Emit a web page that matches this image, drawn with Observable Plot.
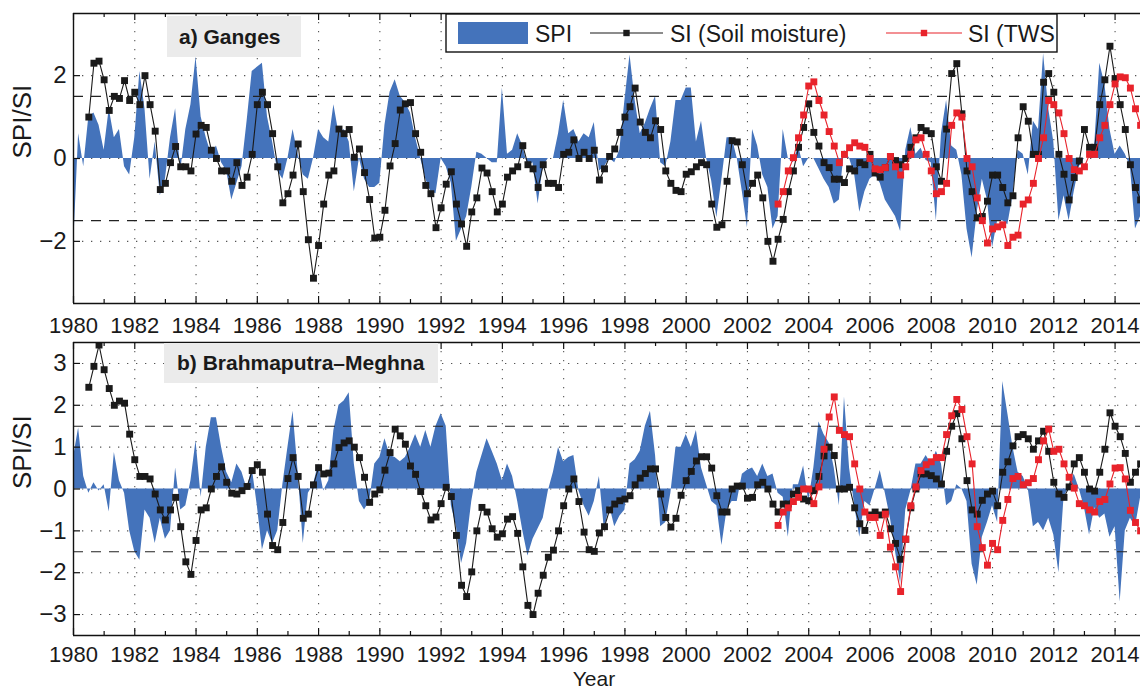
<!DOCTYPE html>
<html><head><meta charset="utf-8">
<script src="https://cdn.jsdelivr.net/npm/d3@7"></script>
<script src="https://cdn.jsdelivr.net/npm/@observablehq/plot@0.6"></script>
<style>
body{margin:0;background:#fff;}
#chart{position:relative;width:1140px;height:690px;overflow:hidden;background:#fff;}
#chart svg{position:absolute;left:0;}
</style></head><body><div id="chart"></div>
<script>
// ---- time layout of the series (bimonthly readings) ----
const START = 1980, STEP = 1 / 6;
const SI_START = 1980.5, TWS_START = 2003.0;

// ---- axis ticks / labels ----
const yearTicks = [1980,1982,1984,1986,1988,1990,1992,1994,1996,1998,2000,2002,2004,2006,2008,2010,2012,2014];
const minorYears = [1981,1983,1985,1987,1989,1991,1993,1995,1997,1999,2001,2003,2005,2007,2009,2011,2013];
const yTicksA = [-2, 0, 2];
const yTicksB = [-3, -2, -1, 0, 1, 2, 3];
const thresholds = [-1.5, 1.5];
const panelTitles = ["a) Ganges", "b) Brahmaputra–Meghna"];
const legendLabels = ["SPI", "SI (Soil moisture)", "SI (TWS"];
const yLabel = "SPI/SI";
const xLabel = "Year";

// ---- a) Ganges ----
const gangesSPI = [
-2.2,0.6,-0.2,1.0,1.1,0.8,0.2,1.2,0.5,0.7,-0.2,-0.4,0.5,2.1,1.2,-0.5,0.4,-0.9,-0.5,0.5,1.2,-0.3,0.7,1.3,2.45,1.0,0.5,0.1,0.3,-0.1,-0.3,-1.0,-0.6,-0.2,0.9,2.1,2.2,2.3,1.0,0.4,-0.3,-0.5,0.0,0.7,0.1,-0.4,-0.5,0.0,0.7,0.5,0.4,1.3,0.6,0.7,0.4,
-0.8,0.0,-0.5,-0.7,-0.7,-0.6,0.8,1.6,1.9,1.5,1.35,1.1,0.5,0.0,-0.5,-0.8,-0.85,0.0,-0.2,-0.6,-2.0,-1.7,-1.4,-0.7,0.15,0.1,0.0,-0.1,-0.1,1.7,0.1,0.2,0.6,0.3,-0.2,-0.1,-1.1,-0.2,0.0,0.0,0.6,1.4,0.6,0.7,0.4,0.6,0.5,0.87,-0.3,-0.2,0.0,-0.1,0.2,
1.4,2.5,1.4,0.6,0.85,1.2,1.5,-0.1,-0.2,0.4,1.4,1.4,1.7,1.7,0.4,0.9,0.0,-0.55,-1.43,-0.5,0.5,0.5,0.0,-0.8,-1.67,0.7,0.3,-0.4,-0.7,-1.7,-1.4,0.7,0.0,-0.1,0.3,-0.2,0.0,0.0,-0.25,-0.5,-0.7,-1.1,-1.0,0.2,0.0,-0.4,-1.3,-0.8,-0.5,-0.4,-0.6,-1.0,-1.2,-1.4,-1.76,
0.2,0.75,0.1,0.25,-0.05,-0.1,-1.5,0.6,1.4,0.3,0.2,-0.4,-1.7,-2.4,-1.3,-0.5,-1.0,-2.16,-1.5,-1.5,-1.6,-0.9,0.2,0.1,-0.4,0.9,0.7,2.53,1.2,0.4,-1.5,-0.9,-1.5,-0.8,-0.2,0.0,0.0,0.3,2.3,1.8,0.7,0.1,0.3,0.1,-0.2,-1.7,-1.4
];
const gangesSI = [
1.0,2.3,2.35,1.9,1.16,1.5,1.45,1.88,1.4,1.6,1.3,2.0,1.3,0.66,-0.75,-0.6,-0.1,0.29,-0.2,-0.2,-0.3,0.59,0.8,0.75,0.2,0.0,-0.3,-0.3,-0.55,-0.1,-0.65,-0.45,0.1,1.3,1.6,1.3,0.6,-0.2,-1.07,-0.85,-0.4,0.35,-0.8,-1.96,-2.89,-2.1,-1.1,-0.4,-0.3,0.71,0.6,0.7,
0.03,0.23,-0.34,-0.99,-1.92,-1.9,-1.25,-0.18,0.36,1.17,1.32,1.35,0.6,0.15,-0.65,-0.85,-1.67,-1.19,-0.62,-0.32,-1.1,-1.58,-2.12,-1.29,-0.95,-0.23,-0.35,-0.8,-1.29,-1.1,-0.45,-0.3,-0.2,0.31,-0.15,-0.25,-0.7,-0.15,-0.6,-0.6,-0.7,0.1,0.15,0.45,0.0,0.15,0.0,0.2,-0.52,-0.25,0.05,0.23,0.63,
1.0,1.25,1.7,0.88,0.63,0.5,0.91,0.7,-0.3,-0.6,-0.77,-0.8,-0.38,-0.32,-0.2,-0.1,-0.15,-1.1,-1.66,-1.6,-0.55,0.43,0.4,-0.15,-0.85,-0.6,-0.4,-0.95,-2.0,-2.48,-1.95,-1.47,-0.8,-0.3,0.27,0.75,1.32,0.63,0.3,-0.1,-0.22,-0.5,-0.5,-0.58,-0.25,-0.3,-0.1,-0.15,0.1,-0.35,-0.45,-0.22,0.05,-0.05,-0.15,
0.0,0.27,0.5,0.75,0.67,0.6,-0.2,-0.55,0.71,2.05,2.29,1.08,-0.3,-0.8,-1.43,-1.4,-1.03,-0.4,-0.4,-0.7,-1.07,-0.9,0.5,1.25,0.9,0.1,0.1,1.84,2.05,1.6,0.1,-0.38,-1.0,-0.46,-0.06,0.7,0.27,0.27,1.3,1.9,2.71,1.93,1.3,0.7,-0.15,-0.7,-1.0
];
const gangesTWS = [
-1.1,-0.8,-0.3,0.02,0.5,1.05,1.75,1.85,1.4,1.05,0.65,0.3,-0.1,0.1,0.26,0.38,0.3,0.27,0.0,-0.25,-0.27,-0.22,0.05,-0.2,-0.4,
-0.2,0.1,0.45,0.5,0.1,-0.3,-0.85,-0.8,-0.6,0.8,1.1,1.0,0.0,-0.2,-0.95,-1.5,-2.04,-1.7,-1.65,-1.6,-2.1,-1.9,-1.85,-1.1,-1.0,-0.6,0.0,0.5,1.4,1.3,1.1,0.6,0.0,-0.27,-0.3,-0.2,0.1,0.1,0.5,0.8,1.3,1.8,1.97,1.95,1.7,1.2,0.8
];

// ---- b) Brahmaputra–Meghna ----
const brahmSPI = [
0.75,1.46,0.3,-0.1,0.15,-0.05,0.1,-0.55,0.87,0.2,-0.1,-1.0,-1.5,-1.7,-0.5,-0.7,-1.3,-0.7,-1.2,-1.0,0.5,-0.5,-0.4,0.2,1.15,-0.2,1.0,1.7,1.7,1.0,0.4,0.15,0.6,0.4,0.0,0.5,-0.4,-1.46,-1.0,-1.3,-1.0,0.1,1.0,1.86,0.4,-1.3,-0.1,0.1,0.6,-0.05,0.2,1.4,2.0,2.1,2.3,
0.6,-0.3,-0.5,-0.3,0.6,0.75,1.2,0.8,0.75,0.65,0.75,1.0,1.3,1.0,1.4,1.0,1.5,1.8,1.5,-0.4,-0.9,-1.78,-1.3,-0.3,0.4,0.8,1.2,0.9,0.6,0.2,0.6,0.3,-0.3,-1.0,-1.6,-1.2,-0.95,-0.7,-0.05,0.4,0.99,0.65,0.75,0.8,-0.05,-0.4,-0.65,-0.3,0.3,-1.0,-0.4,-0.9,-0.65,
-0.5,0.6,0.7,0.9,1.5,1.86,0.8,-0.9,-0.8,-0.1,1.0,1.0,1.3,1.0,1.4,0.5,0.1,-0.3,-0.4,-1.35,-0.5,-0.3,-0.3,0.35,0.45,0.5,0.3,0.6,0.3,0.36,-0.1,-0.2,-1.15,0.1,0.1,0.55,-0.3,0.5,1.6,1.3,1.1,0.5,-0.4,2.2,0.5,-0.4,-1.15,-0.3,-0.4,0.0,0.44,-0.1,-0.7,-1.5,-2.26,
-0.5,-0.05,0.6,0.6,0.8,0.6,0.9,0.6,-0.4,-0.3,0.1,0.0,-0.3,-1.8,-2.3,-1.15,-0.8,-0.4,-0.8,2.57,1.8,1.0,0.4,0.3,0.0,-0.9,-0.8,-1.0,-0.7,-1.1,-2.0,-0.2,0.05,0.35,0.0,-0.45,-1.1,-0.45,-0.7,-0.6,-1.15,-0.9,-2.7,-1.0,-0.7,-0.9,-0.2
];
const brahmSI = [
2.43,2.93,3.44,2.85,2.4,2.0,2.1,2.05,1.31,0.7,0.3,0.3,0.24,-0.12,-0.5,-0.74,-0.5,-0.2,-0.9,-1.74,-2.04,-1.23,-0.5,-0.45,0.0,0.3,0.53,0.16,-0.1,-0.12,-0.04,0.06,0.44,0.58,0.4,-0.6,-1.35,-1.45,-0.8,0.25,0.75,0.3,-0.7,-0.6,0.1,0.51,0.36,0.38,0.6,0.99,1.1,1.15,
1.0,0.75,0.28,-0.32,-0.12,-0.02,0.45,0.87,1.43,1.27,1.07,0.55,0.35,-0.06,-0.4,-0.74,-0.67,-0.35,0.04,-0.18,-1.11,-2.3,-2.57,-1.98,-1.0,-0.44,-0.55,-0.95,-1.15,-1.07,-0.72,-0.66,-1.06,-1.86,-2.78,-3.0,-2.49,-2.06,-1.63,-1.46,-1.0,-0.4,0.0,0.24,-0.3,-1.03,-1.45,-1.49,-1.05,-0.9,-0.5,-0.36,-0.28,
-0.24,-0.16,0.1,0.26,0.37,0.48,0.48,-0.12,-0.68,-0.91,-0.7,-0.15,0.2,0.42,0.67,0.77,0.77,0.5,-0.16,-0.55,-0.55,0.0,0.07,0.07,-0.22,-0.2,0.1,0.16,0.0,-0.36,-0.55,-0.36,-0.36,-0.12,-0.04,-0.24,-0.28,-0.04,0.3,0.79,1.0,0.8,0.0,0.0,0.04,-0.45,-0.83,-0.99,-0.62,-0.55,-0.62,-0.55,-0.95,-1.3,-1.68,
-1.2,-0.45,0.0,0.36,0.36,0.32,0.24,0.12,0.9,1.5,1.8,1.2,0.2,-0.5,-0.6,-0.27,-0.12,-0.05,-0.4,0.4,0.65,1.03,1.25,1.3,1.2,0.95,1.15,1.38,0.9,0.16,-0.12,-0.2,0.05,0.6,0.75,0.4,0.0,-0.05,0.4,0.95,1.82,1.5,1.25,0.85,0.16,0.4,0.6
];
const brahmTWS = [
-0.87,-0.55,-0.45,-0.3,-0.2,0.0,0.0,-0.35,0.05,0.95,1.72,2.2,1.4,1.3,1.25,0.6,0.0,-0.55,-0.68,-0.68,-1.11,-0.6,-1.39,-1.86,-2.45,
-1.2,-0.4,0.05,0.44,0.58,0.65,0.75,0.75,1.3,1.75,2.14,1.9,1.25,0.6,-0.9,-1.4,-1.82,-1.3,-1.45,-0.75,-0.25,0.25,0.3,0.1,0.15,0.25,0.7,1.15,1.43,0.9,0.95,0.6,0.28,0.02,-0.35,-0.4,-0.5,-0.55,-0.3,-0.25,0.12,0.5,0.51,0.24,-0.51,-0.8,-1.0
];

// ---- styling ----
const FONT = "'Liberation Sans', Arial, Helvetica, sans-serif";
const BLUE = "#4473bb", BLACK = "#1a1a1a", RED = "#e8232b";
const X_DOMAIN = [1980, 2014.83];
const Y_DOMAIN = [-3.5, 3.5];
const W = 1140, ML = 73;

const root = document.getElementById("chart");

function panel(spi, si, tws, yTicks, top, height, mTop, mBottom, xPad) {
  const spiData = spi.map((v, i) => ({t: START + i * STEP, v}));
  const siData = si.map((v, i) => ({t: SI_START + i * STEP, v}));
  const twsData = tws.map((v, i) => ({t: TWS_START + i * STEP, v}));
  const plotH = height - mTop - mBottom;
  const yPerPx = (Y_DOMAIN[1] - Y_DOMAIN[0]) / plotH;
  const xPerPx = (X_DOMAIN[1] - X_DOMAIN[0]) / (W - ML);
  const [y0, y1] = Y_DOMAIN;
  const frame = {stroke: "#111", strokeWidth: 1.4};
  const svg = Plot.plot({
    width: W, height, marginLeft: ML, marginRight: 0, marginTop: mTop, marginBottom: mBottom,
    x: {domain: X_DOMAIN},
    y: {domain: Y_DOMAIN},
    style: {fontFamily: FONT, fontSize: "24px", color: "#1a1a1a", background: "transparent", overflow: "visible"},
    marks: [
      Plot.ruleX(yearTicks.slice(1), {stroke: "#555", strokeWidth: 1.1, strokeDasharray: "1.3,7.7"}),
      Plot.ruleY(yTicks, {stroke: "#555", strokeWidth: 1.1, strokeDasharray: "1.3,7.7"}),
      Plot.areaY(spiData, {x: "t", y: "v", fill: BLUE, clip: true}),
      Plot.ruleY(thresholds, {stroke: "#222", strokeWidth: 1.1, strokeDasharray: "10,8"}),
      Plot.line(siData, {x: "t", y: "v", stroke: BLACK, strokeWidth: 1.1, clip: true}),
      Plot.dot(siData, {x: "t", y: "v", symbol: "square", r: 3.9, fill: BLACK, clip: true}),
      Plot.line(twsData, {x: "t", y: "v", stroke: RED, strokeWidth: 1.1, clip: true}),
      Plot.dot(twsData, {x: "t", y: "v", symbol: "square", r: 3.9, fill: RED, clip: true}),
      // frame (left, top, bottom)
      Plot.ruleY([y0, y1], frame),
      Plot.ruleX([X_DOMAIN[0]], frame),
      // inward ticks
      Plot.ruleX(yearTicks, {y1: y0, y2: y0 + 7 * yPerPx, ...frame, strokeWidth: 1.2}),
      Plot.ruleX(yearTicks, {y1: y1, y2: y1 - 7 * yPerPx, ...frame, strokeWidth: 1.2}),
      Plot.ruleX(minorYears, {y1: y0, y2: y0 + 4 * yPerPx, ...frame, strokeWidth: 1.2}),
      Plot.ruleX(minorYears, {y1: y1, y2: y1 - 4 * yPerPx, ...frame, strokeWidth: 1.2}),
      Plot.ruleY(yTicks, {x1: X_DOMAIN[0], x2: X_DOMAIN[0] + 7 * xPerPx, ...frame, strokeWidth: 1.2}),
      Plot.axisX(yearTicks, {tickSize: 0, tickPadding: xPad, tickFormat: d => String(d), fontSize: 22, label: null, fill: "#1a1a1a"}),
      Plot.axisY(yTicks, {tickSize: 0, tickPadding: 7, label: null, fontSize: 24, fill: "#1a1a1a"}),
      Plot.text([yLabel], {frameAnchor: "left", rotate: -90, dx: -51, fontSize: 26, fill: "#1a1a1a"})
    ]
  });
  svg.style.top = top + "px";
  root.appendChild(svg);
}

panel(gangesSPI, gangesSI, gangesTWS, yTicksA, 0, 340, 13, 37, 14);
panel(brahmSPI, brahmSI, brahmTWS, yTicksB, 340, 350, 2, 55, 11);

// ---- overlay: titles, legend, x label ----
const over = d3.select(root).append("svg")
  .attr("width", W).attr("height", 690)
  .style("top", "0px").style("font-family", FONT);

const titleBoxes = [
  {x: 167, y: 16, w: 134, h: 41, tx: 179, ty: 44},
  {x: 164, y: 343, w: 274, h: 40, tx: 177, ty: 370}
];
titleBoxes.forEach((b, i) => {
  over.append("rect").attr("x", b.x).attr("y", b.y).attr("width", b.w).attr("height", b.h).attr("fill", "#ebebeb");
  over.append("text").attr("x", b.tx).attr("y", b.ty).attr("font-size", 21).attr("font-weight", "bold")
    .attr("fill", "#1a1a1a").text(panelTitles[i]);
});

// legend
const lg = over.append("g");
lg.append("rect").attr("x", 446).attr("y", 14).attr("width", 611).attr("height", 38)
  .attr("fill", "#fff").attr("stroke", "#111").attr("stroke-width", 1.4);
lg.append("rect").attr("x", 458).attr("y", 22).attr("width", 70).attr("height", 22).attr("fill", BLUE);
lg.append("text").attr("x", 535).attr("y", 42).attr("font-size", 23).attr("fill", "#1a1a1a").text(legendLabels[0]);
[{x1: 590, x2: 663, c: BLACK, tx: 670, label: legendLabels[1]},
 {x1: 886, x2: 962, c: RED, tx: 968, label: legendLabels[2]}].forEach(it => {
  lg.append("line").attr("x1", it.x1).attr("x2", it.x2).attr("y1", 33).attr("y2", 33).attr("stroke", it.c).attr("stroke-width", 1.1);
  const m = (it.x1 + it.x2) / 2;
  lg.append("rect").attr("x", m - 3.2).attr("y", 29.8).attr("width", 6.4).attr("height", 6.4).attr("fill", it.c);
  lg.append("text").attr("x", it.tx).attr("y", 42).attr("font-size", 23).attr("fill", "#1a1a1a").text(it.label);
});

over.append("text").attr("x", 594).attr("y", 686).attr("text-anchor", "middle").attr("font-size", 21)
  .attr("fill", "#1a1a1a").text(xLabel);
</script>
</body></html>
